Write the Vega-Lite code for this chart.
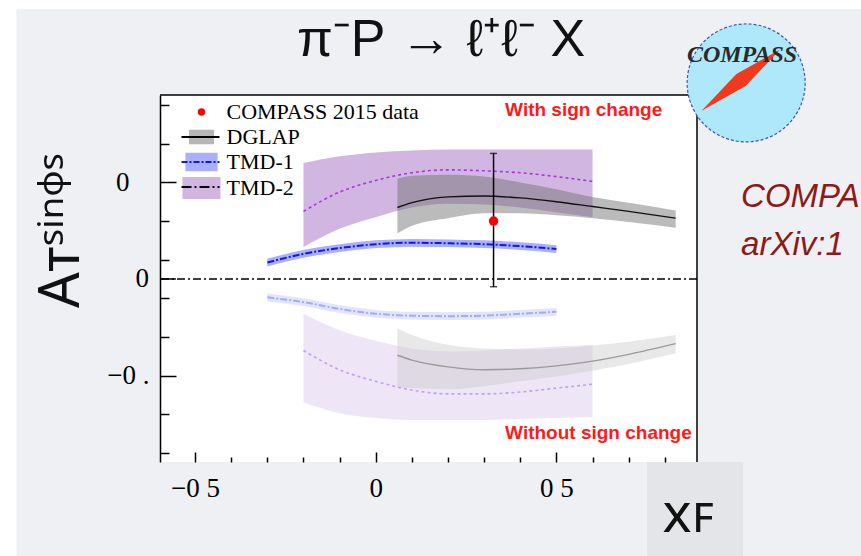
{
  "$schema": "https://vega.github.io/schema/vega-lite/v6.json",
  "width": 537,
  "height": 367,
  "autosize": "none",
  "padding": {"left": 160, "top": 95, "right": 164, "bottom": 94},
  "background": "#eff0f4",
  "config": {"view": {"stroke": null, "fill": "white"}, "axis": {"labelOverlap": false}},
  "datasets": {
    "curves": [
      {"m": "TMD-2", "side": "up", "x": -0.2, "y": 0.070, "lo": 0.033, "hi": 0.120},
      {"m": "TMD-2", "side": "up", "x": -0.1, "y": 0.090, "lo": 0.052, "hi": 0.127},
      {"m": "TMD-2", "side": "up", "x": 0.0, "y": 0.102, "lo": 0.064, "hi": 0.131},
      {"m": "TMD-2", "side": "up", "x": 0.1, "y": 0.110, "lo": 0.074, "hi": 0.133},
      {"m": "TMD-2", "side": "up", "x": 0.2, "y": 0.113, "lo": 0.078, "hi": 0.134},
      {"m": "TMD-2", "side": "up", "x": 0.3, "y": 0.112, "lo": 0.077, "hi": 0.134},
      {"m": "TMD-2", "side": "up", "x": 0.4, "y": 0.110, "lo": 0.074, "hi": 0.134},
      {"m": "TMD-2", "side": "up", "x": 0.5, "y": 0.106, "lo": 0.069, "hi": 0.134},
      {"m": "TMD-2", "side": "up", "x": 0.6, "y": 0.101, "lo": 0.064, "hi": 0.134},
      {"m": "TMD-2", "side": "low", "x": -0.2, "y": -0.074, "lo": -0.128, "hi": -0.036},
      {"m": "TMD-2", "side": "low", "x": -0.1, "y": -0.094, "lo": -0.139, "hi": -0.053},
      {"m": "TMD-2", "side": "low", "x": 0.0, "y": -0.106, "lo": -0.144, "hi": -0.064},
      {"m": "TMD-2", "side": "low", "x": 0.1, "y": -0.115, "lo": -0.146, "hi": -0.072},
      {"m": "TMD-2", "side": "low", "x": 0.2, "y": -0.119, "lo": -0.146, "hi": -0.075},
      {"m": "TMD-2", "side": "low", "x": 0.3, "y": -0.119, "lo": -0.146, "hi": -0.074},
      {"m": "TMD-2", "side": "low", "x": 0.4, "y": -0.117, "lo": -0.145, "hi": -0.072},
      {"m": "TMD-2", "side": "low", "x": 0.5, "y": -0.113, "lo": -0.144, "hi": -0.070},
      {"m": "TMD-2", "side": "low", "x": 0.6, "y": -0.109, "lo": -0.143, "hi": -0.068},
      {"m": "DGLAP", "side": "up", "x": 0.06, "y": 0.074, "lo": 0.047, "hi": 0.104},
      {"m": "DGLAP", "side": "up", "x": 0.1, "y": 0.079, "lo": 0.055, "hi": 0.107},
      {"m": "DGLAP", "side": "up", "x": 0.2, "y": 0.085, "lo": 0.063, "hi": 0.108},
      {"m": "DGLAP", "side": "up", "x": 0.3, "y": 0.086, "lo": 0.068, "hi": 0.106},
      {"m": "DGLAP", "side": "up", "x": 0.4, "y": 0.084, "lo": 0.068, "hi": 0.100},
      {"m": "DGLAP", "side": "up", "x": 0.5, "y": 0.080, "lo": 0.066, "hi": 0.093},
      {"m": "DGLAP", "side": "up", "x": 0.6, "y": 0.075, "lo": 0.063, "hi": 0.085},
      {"m": "DGLAP", "side": "up", "x": 0.7, "y": 0.070, "lo": 0.059, "hi": 0.079},
      {"m": "DGLAP", "side": "up", "x": 0.83, "y": 0.063, "lo": 0.053, "hi": 0.071},
      {"m": "DGLAP", "side": "low", "x": 0.06, "y": -0.079, "lo": -0.112, "hi": -0.051},
      {"m": "DGLAP", "side": "low", "x": 0.1, "y": -0.084, "lo": -0.113, "hi": -0.058},
      {"m": "DGLAP", "side": "low", "x": 0.2, "y": -0.091, "lo": -0.114, "hi": -0.068},
      {"m": "DGLAP", "side": "low", "x": 0.3, "y": -0.094, "lo": -0.111, "hi": -0.072},
      {"m": "DGLAP", "side": "low", "x": 0.4, "y": -0.093, "lo": -0.106, "hi": -0.073},
      {"m": "DGLAP", "side": "low", "x": 0.5, "y": -0.090, "lo": -0.101, "hi": -0.072},
      {"m": "DGLAP", "side": "low", "x": 0.6, "y": -0.085, "lo": -0.095, "hi": -0.069},
      {"m": "DGLAP", "side": "low", "x": 0.7, "y": -0.078, "lo": -0.088, "hi": -0.065},
      {"m": "DGLAP", "side": "low", "x": 0.83, "y": -0.067, "lo": -0.077, "hi": -0.058},
      {"m": "TMD-1", "side": "up", "x": -0.3, "y": 0.017, "lo": 0.013, "hi": 0.021},
      {"m": "TMD-1", "side": "up", "x": -0.2, "y": 0.026, "lo": 0.022, "hi": 0.030},
      {"m": "TMD-1", "side": "up", "x": -0.1, "y": 0.032, "lo": 0.028, "hi": 0.036},
      {"m": "TMD-1", "side": "up", "x": 0.0, "y": 0.036, "lo": 0.032, "hi": 0.040},
      {"m": "TMD-1", "side": "up", "x": 0.1, "y": 0.0375, "lo": 0.0335, "hi": 0.0415},
      {"m": "TMD-1", "side": "up", "x": 0.2, "y": 0.037, "lo": 0.033, "hi": 0.041},
      {"m": "TMD-1", "side": "up", "x": 0.3, "y": 0.036, "lo": 0.032, "hi": 0.040},
      {"m": "TMD-1", "side": "up", "x": 0.4, "y": 0.034, "lo": 0.030, "hi": 0.038},
      {"m": "TMD-1", "side": "up", "x": 0.5, "y": 0.031, "lo": 0.027, "hi": 0.035},
      {"m": "TMD-1", "side": "low", "x": -0.3, "y": -0.019, "lo": -0.023, "hi": -0.015},
      {"m": "TMD-1", "side": "low", "x": -0.2, "y": -0.024, "lo": -0.028, "hi": -0.020},
      {"m": "TMD-1", "side": "low", "x": -0.1, "y": -0.031, "lo": -0.035, "hi": -0.027},
      {"m": "TMD-1", "side": "low", "x": 0.0, "y": -0.036, "lo": -0.040, "hi": -0.032},
      {"m": "TMD-1", "side": "low", "x": 0.1, "y": -0.038, "lo": -0.042, "hi": -0.034},
      {"m": "TMD-1", "side": "low", "x": 0.2, "y": -0.0385, "lo": -0.0425, "hi": -0.0345},
      {"m": "TMD-1", "side": "low", "x": 0.3, "y": -0.038, "lo": -0.042, "hi": -0.034},
      {"m": "TMD-1", "side": "low", "x": 0.4, "y": -0.036, "lo": -0.040, "hi": -0.032},
      {"m": "TMD-1", "side": "low", "x": 0.5, "y": -0.034, "lo": -0.038, "hi": -0.030}
    ],
    "pt": [{"x": 0.326, "y": 0.060, "lo": -0.008, "hi": 0.130}],
    "lg": [
      {"lg": "COMPASS 2015 data", "lgline": "c"},
      {"lg": "DGLAP", "lgline": "d"},
      {"lg": "TMD-1", "lgline": "t1"},
      {"lg": "TMD-2", "lgline": "t2"}
    ]
  },
  "layer": [
    {
      "data": {"name": "curves"},
      "transform": [{"filter": "datum.m == 'TMD-2' && datum.side == 'up'"}],
      "mark": {"type": "area", "interpolate": "monotone", "fill": "#d2b6e2"},
      "encoding": {
        "x": {"field": "x", "type": "quantitative", "scale": {"domain": [-0.597, 0.889], "nice": false, "zero": false},
          "axis": {"orient": "bottom", "values": [-0.5, -0.4, -0.3, -0.2, -0.1, 0, 0.1, 0.2, 0.3, 0.4, 0.5, 0.6, 0.7, 0.8],
            "domain": false, "grid": false, "tickColor": "black", "tickWidth": 1.5,
            "tickSize": {"condition": {"test": "abs(datum.value) < 0.001 || abs(abs(datum.value) - 0.5) < 0.001", "value": -10}, "value": -5},
            "labelExpr": "abs(datum.value + 0.5) < 0.001 ? '−0 5' : abs(datum.value) < 0.001 ? '0' : abs(datum.value - 0.5) < 0.001 ? '0 5' : ''",
            "labelFont": "Liberation Serif", "labelFontSize": 27, "labelColor": "black", "labelPadding": 23, "labelFlush": false, "labelOverlap": false, "labelBound": false,
            "title": "xꜰ", "titleFont": "Noto Sans", "titleFontSize": 55, "titleFontWeight": "normal", "titleColor": "#111",
            "titleX": 528, "titleY": 69, "titleBaseline": "alphabetic", "titleAlign": "center", "zindex": 1}},
        "y": {"field": "lo", "type": "quantitative", "scale": {"domain": [-0.1895, 0.1905], "nice": false, "zero": false},
          "axis": {"orient": "left", "values": [-0.18, -0.16, -0.14, -0.12, -0.1, -0.08, -0.06, -0.04, -0.02, 0, 0.02, 0.04, 0.06, 0.08, 0.1, 0.12, 0.14, 0.16, 0.18],
            "domain": true, "domainColor": "black", "domainWidth": 1.5, "grid": false, "tickColor": "black", "tickWidth": 1.5,
            "tickSize": {"condition": {"test": "abs(datum.value) < 0.001 || abs(abs(datum.value) - 0.1) < 0.001", "value": -16}, "value": -9},
            "labelExpr": "abs(datum.value - 0.1) < 0.001 ? '0' : abs(datum.value + 0.1) < 0.001 ? '−0 .' : ''",
            "labelPadding": {"condition": {"test": "abs(datum.value - 0.1) < 0.001", "value": 47}, "value": 27},
            "labelFontSize": {"condition": {"test": "abs(abs(datum.value) - 0.1) < 0.001", "value": 27}, "value": 1},
            "labelFont": "Liberation Serif", "labelColor": "black", "labelOverlap": false, "labelBound": false,
            "title": "Aᴛˢⁱⁿᵠˢ", "titleFont": "Noto Sans", "titleFontSize": 56, "titleFontWeight": "normal", "titleColor": "#111",
            "titleAngle": -90, "titleX": -82, "titleY": 135, "titleBaseline": "alphabetic", "titleAlign": "center", "zindex": 1}},
        "y2": {"field": "hi"}
      }
    },
    {
      "data": {"name": "curves"},
      "transform": [{"filter": "datum.m == 'TMD-2' && datum.side == 'low'"}],
      "mark": {"type": "area", "interpolate": "monotone", "fill": "#eee6f6"},
      "encoding": {
        "x": {"field": "x", "type": "quantitative"},
        "y": {"field": "lo", "type": "quantitative"},
        "y2": {"field": "hi"}
      }
    },
    {
      "data": {"name": "curves"},
      "transform": [{"filter": "datum.m == 'DGLAP' && datum.side == 'up'"}],
      "mark": {"type": "area", "interpolate": "monotone", "fill": "#707070", "fillOpacity": 0.48},
      "encoding": {
        "x": {"field": "x", "type": "quantitative"},
        "y": {"field": "lo", "type": "quantitative"},
        "y2": {"field": "hi"}
      }
    },
    {
      "data": {"name": "curves"},
      "transform": [{"filter": "datum.m == 'DGLAP' && datum.side == 'low'"}],
      "mark": {"type": "area", "interpolate": "monotone", "fill": "#c8c8c8", "fillOpacity": 0.42},
      "encoding": {
        "x": {"field": "x", "type": "quantitative"},
        "y": {"field": "lo", "type": "quantitative"},
        "y2": {"field": "hi"}
      }
    },
    {
      "data": {"name": "curves"},
      "transform": [{"filter": "datum.m == 'TMD-1' && datum.side == 'up'"}],
      "mark": {"type": "area", "interpolate": "monotone", "fill": "#a8b0ff"},
      "encoding": {
        "x": {"field": "x", "type": "quantitative"},
        "y": {"field": "lo", "type": "quantitative"},
        "y2": {"field": "hi"}
      }
    },
    {
      "data": {"name": "curves"},
      "transform": [{"filter": "datum.m == 'TMD-1' && datum.side == 'low'"}],
      "mark": {"type": "area", "interpolate": "monotone", "fill": "#e2e5ff"},
      "encoding": {
        "x": {"field": "x", "type": "quantitative"},
        "y": {"field": "lo", "type": "quantitative"},
        "y2": {"field": "hi"}
      }
    },
    {
      "data": {"values": [{}]},
      "mark": {"type": "rule", "color": "black", "strokeWidth": 1.4, "strokeDash": [8, 3, 2, 3]},
      "encoding": {"y": {"datum": 0, "type": "quantitative"}}
    },
    {
      "data": {"values": [{}]},
      "mark": {"type": "rule", "color": "black", "strokeWidth": 1.5},
      "encoding": {"y": {"datum": 0.1905, "type": "quantitative"}}
    },
    {
      "data": {"values": [{}]},
      "mark": {"type": "rule", "color": "black", "strokeWidth": 1.5},
      "encoding": {"x": {"datum": 0.889, "type": "quantitative"}}
    },
    {
      "data": {"values": [{}]},
      "mark": {"type": "rule", "color": "black", "strokeWidth": 1.5, "clip": false},
      "encoding": {"x": {"datum": -0.597, "type": "quantitative"}, "x2": {"datum": -0.553}, "y": {"datum": 0, "type": "quantitative"}}
    },
    {
      "data": {"values": [{}]},
      "mark": {"type": "text", "text": "0", "font": "Liberation Serif", "fontSize": 27, "fill": "black", "align": "right", "baseline": "middle", "clip": false},
      "encoding": {"x": {"datum": -0.6275, "type": "quantitative"}, "y": {"datum": 0, "type": "quantitative"}}
    },
    {
      "data": {"name": "curves"},
      "transform": [{"filter": "datum.m == 'TMD-2' && datum.side == 'up'"}],
      "mark": {"type": "line", "interpolate": "monotone", "stroke": "#a838d8", "strokeWidth": 1.6, "strokeDash": [3, 3]},
      "encoding": {
        "x": {"field": "x", "type": "quantitative"},
        "y": {"field": "y", "type": "quantitative"}
      }
    },
    {
      "data": {"name": "curves"},
      "transform": [{"filter": "datum.m == 'TMD-2' && datum.side == 'low'"}],
      "mark": {"type": "line", "interpolate": "monotone", "stroke": "#c3a0f2", "strokeWidth": 1.6, "strokeDash": [3, 3]},
      "encoding": {
        "x": {"field": "x", "type": "quantitative"},
        "y": {"field": "y", "type": "quantitative"}
      }
    },
    {
      "data": {"name": "curves"},
      "transform": [{"filter": "datum.m == 'DGLAP' && datum.side == 'up'"}],
      "mark": {"type": "line", "interpolate": "monotone", "stroke": "#111111", "strokeWidth": 1.4},
      "encoding": {
        "x": {"field": "x", "type": "quantitative"},
        "y": {"field": "y", "type": "quantitative"}
      }
    },
    {
      "data": {"name": "curves"},
      "transform": [{"filter": "datum.m == 'DGLAP' && datum.side == 'low'"}],
      "mark": {"type": "line", "interpolate": "monotone", "stroke": "#9a9a9a", "strokeWidth": 1.4},
      "encoding": {
        "x": {"field": "x", "type": "quantitative"},
        "y": {"field": "y", "type": "quantitative"}
      }
    },
    {
      "data": {"name": "curves"},
      "transform": [{"filter": "datum.m == 'TMD-1' && datum.side == 'up'"}],
      "mark": {"type": "line", "interpolate": "monotone", "stroke": "#1414f0", "strokeWidth": 2, "strokeDash": [7, 2, 2, 2]},
      "encoding": {
        "x": {"field": "x", "type": "quantitative"},
        "y": {"field": "y", "type": "quantitative"}
      }
    },
    {
      "data": {"name": "curves"},
      "transform": [{"filter": "datum.m == 'TMD-1' && datum.side == 'low'"}],
      "mark": {"type": "line", "interpolate": "monotone", "stroke": "#a4aaf6", "strokeWidth": 2, "strokeDash": [7, 2, 2, 2]},
      "encoding": {
        "x": {"field": "x", "type": "quantitative"},
        "y": {"field": "y", "type": "quantitative"}
      }
    },
    {
      "data": {"name": "pt"},
      "mark": {"type": "rule", "color": "black", "strokeWidth": 1.5},
      "encoding": {
        "x": {"field": "x", "type": "quantitative"},
        "y": {"field": "lo", "type": "quantitative"},
        "y2": {"field": "hi"}
      }
    },
    {
      "data": {"name": "pt"},
      "mark": {"type": "tick", "orient": "horizontal", "color": "black", "size": 7, "thickness": 1.5},
      "encoding": {
        "x": {"field": "x", "type": "quantitative"},
        "y": {"field": "hi", "type": "quantitative"}
      }
    },
    {
      "data": {"name": "pt"},
      "mark": {"type": "tick", "orient": "horizontal", "color": "black", "size": 7, "thickness": 1.5},
      "encoding": {
        "x": {"field": "x", "type": "quantitative"},
        "y": {"field": "lo", "type": "quantitative"}
      }
    },
    {
      "data": {"name": "pt"},
      "mark": {"type": "point", "shape": "circle", "filled": true, "color": "#ff0000", "size": 90, "opacity": 1},
      "encoding": {
        "x": {"field": "x", "type": "quantitative"},
        "y": {"field": "y", "type": "quantitative"}
      }
    },
    {
      "data": {"values": [{}]},
      "mark": {"type": "text", "text": "With sign change", "font": "Liberation Sans", "fontWeight": "bold", "fontSize": 19, "fill": "#ff1a1a", "align": "left", "baseline": "alphabetic"},
      "encoding": {"x": {"datum": 0.358, "type": "quantitative"}, "y": {"datum": 0.1688, "type": "quantitative"}}
    },
    {
      "data": {"values": [{}]},
      "mark": {"type": "text", "text": "Without sign change", "font": "Liberation Sans", "fontWeight": "bold", "fontSize": 19, "fill": "#ff1a1a", "align": "left", "baseline": "alphabetic"},
      "encoding": {"x": {"datum": 0.358, "type": "quantitative"}, "y": {"datum": -0.1657, "type": "quantitative"}}
    },
    {
      "data": {"values": [{}]},
      "mark": {"type": "rect", "fill": "#e3e5e9", "clip": false},
      "encoding": {
        "x": {"datum": 0.751, "type": "quantitative"}, "x2": {"datum": 1.017},
        "y": {"datum": -0.1895, "type": "quantitative"}, "y2": {"datum": -0.29}
      }
    },
    {
      "data": {"values": [{}]},
      "mark": {"type": "rect", "fill": "#ffffff", "clip": false},
      "encoding": {
        "x": {"datum": -1.05, "type": "quantitative"}, "x2": {"datum": 1.4},
        "y": {"datum": 0.29, "type": "quantitative"}, "y2": {"datum": 0.2795}
      }
    },
    {
      "data": {"values": [{}]},
      "mark": {"type": "rect", "fill": "#ffffff", "clip": false},
      "encoding": {
        "x": {"datum": -1.05, "type": "quantitative"}, "x2": {"datum": -0.994},
        "y": {"datum": 0.29, "type": "quantitative"}, "y2": {"datum": -0.29}
      }
    },
    {
      "data": {"values": [{}]},
      "mark": {"type": "text", "text": "π⁻P\u00a0→\u00a0ℓ⁺ℓ⁻\u00a0X", "font": "Liberation Sans", "fontSize": 52, "fill": "#111", "align": "center", "baseline": "alphabetic"},
      "encoding": {"x": {"datum": 0.1807, "type": "quantitative"}, "y": {"datum": 0.231, "type": "quantitative"}}
    },
    {
      "data": {"values": [{}]},
      "mark": {"type": "point", "shape": "circle", "filled": true, "fill": "#aee8fa", "stroke": "#3a55c8", "strokeWidth": 1.2, "strokeDash": [3, 2], "size": 13924, "opacity": 1},
      "encoding": {"x": {"datum": 1.025, "type": "quantitative"}, "y": {"datum": 0.203, "type": "quantitative"}}
    },
    {
      "data": {"values": [{}]},
      "mark": {"type": "point", "shape": "M-1,0L0,-0.15L1,0L0,0.15Z", "filled": true, "fill": "#f03a1e", "strokeWidth": 0, "size": 10000, "angle": -38, "opacity": 1},
      "encoding": {"x": {"datum": 1.0108, "type": "quantitative"}, "y": {"datum": 0.206, "type": "quantitative"}}
    },
    {
      "data": {"values": [{}]},
      "mark": {"type": "text", "text": "COMPASS", "font": "Liberation Serif", "fontStyle": "italic", "fontWeight": "bold", "fontSize": 24, "fill": "#2a2a2a", "align": "center", "baseline": "alphabetic"},
      "encoding": {"x": {"datum": 1.0136, "type": "quantitative"}, "y": {"datum": 0.2247, "type": "quantitative"}}
    },
    {
      "data": {"values": [{}]},
      "mark": {"type": "text", "text": "COMPA", "font": "Liberation Sans", "fontStyle": "italic", "fontSize": 33, "fill": "#8b1a1a", "align": "left", "baseline": "alphabetic"},
      "encoding": {"x": {"datum": 1.011, "type": "quantitative"}, "y": {"datum": 0.0746, "type": "quantitative"}}
    },
    {
      "data": {"values": [{}]},
      "mark": {"type": "text", "text": "arXiv:1", "font": "Liberation Sans", "fontStyle": "italic", "fontSize": 33, "fill": "#8b1a1a", "align": "left", "baseline": "alphabetic"},
      "encoding": {"x": {"datum": 1.011, "type": "quantitative"}, "y": {"datum": 0.0248, "type": "quantitative"}}
    },
    {
      "data": {"name": "lg"},
      "mark": {"type": "point", "filled": true, "clip": true, "opacity": 1},
      "encoding": {
        "x": {"datum": 5, "type": "quantitative"},
        "y": {"datum": 0, "type": "quantitative"},
        "fill": {"field": "lg", "type": "nominal",
          "scale": {"domain": ["COMPASS 2015 data", "DGLAP", "TMD-1", "TMD-2"], "range": ["#ff0000", "#b6b6b6", "#a8b0ff", "#d2b6e2"]},
          "legend": {"orient": "none", "legendX": 30.5, "legendY": 6, "title": null, "padding": 0, "rowPadding": 3, "labelOffset": 14, "labelLimit": 400,
            "labelFont": "Liberation Serif", "labelFontSize": 22, "labelColor": "#000", "symbolStrokeWidth": 0, "symbolOpacity": 1}},
        "shape": {"field": "lg", "type": "nominal",
          "scale": {"domain": ["COMPASS 2015 data", "DGLAP", "TMD-1", "TMD-2"], "range": ["circle", "M-2,-1.16H2V1.16H-2Z", "M-2,-1.16H2V1.16H-2Z", "M-2,-1.16H2V1.16H-2Z"]}},
        "size": {"field": "lg", "type": "nominal",
          "scale": {"domain": ["COMPASS 2015 data", "DGLAP", "TMD-1", "TMD-2"], "range": [55, 361, 361, 361]}}
      }
    },
    {
      "data": {"name": "lg"},
      "mark": {"type": "line", "clip": true},
      "encoding": {
        "x": {"datum": 5, "type": "quantitative"},
        "y": {"datum": 0, "type": "quantitative"},
        "stroke": {"field": "lgline", "type": "nominal",
          "scale": {"domain": ["c", "d", "t1", "t2"], "range": ["rgba(0,0,0,0)", "#000000", "#1414f0", "#000000"]},
          "legend": {"orient": "none", "legendX": 29.5, "legendY": 6, "title": null, "padding": 0, "rowPadding": 3, "labelOffset": 14,
            "labelFont": "Liberation Serif", "labelFontSize": 22, "labelExpr": "'\u00a0'", "symbolType": "M-2,0H2", "symbolSize": 361, "symbolStrokeWidth": 2, "symbolFillColor": "transparent"}},
        "strokeDash": {"field": "lgline", "type": "nominal",
          "scale": {"domain": ["c", "d", "t1", "t2"], "range": [[1, 0], [1, 0], [6, 2, 2, 2], [10, 3, 2, 3]]}}
      }
    }
  ]
}
